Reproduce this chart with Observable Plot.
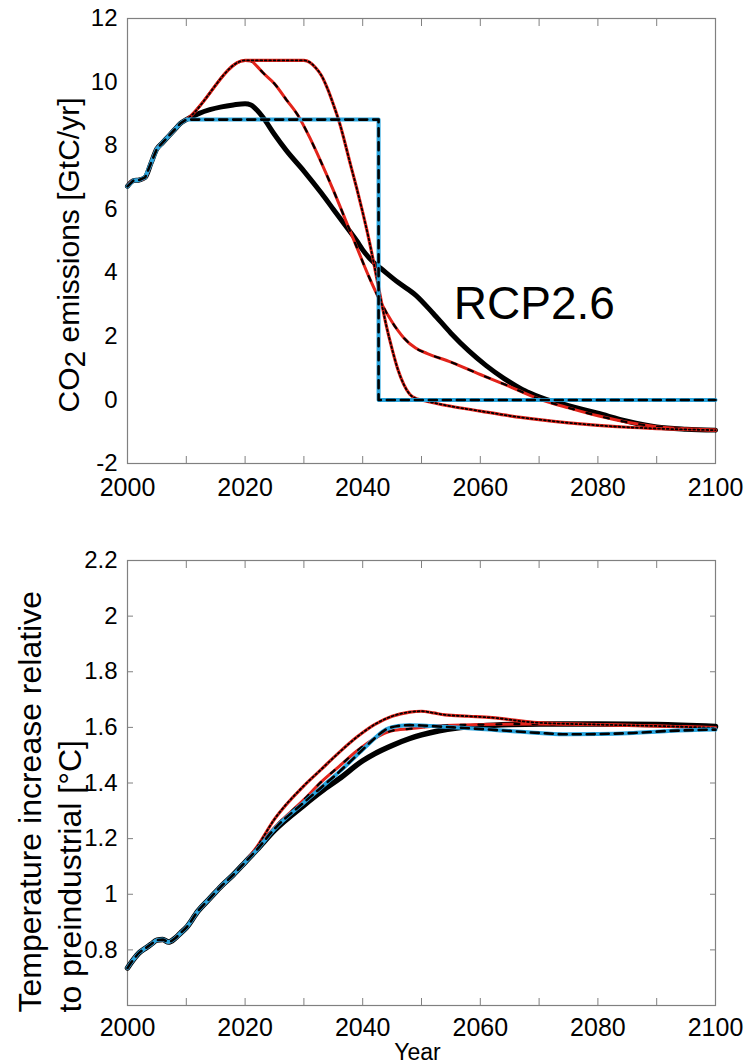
<!DOCTYPE html>
<html><head><meta charset="utf-8">
<script src="https://cdn.jsdelivr.net/npm/d3@7"></script>
<script src="https://cdn.jsdelivr.net/npm/@observablehq/plot@0.6"></script>
<style>
body{margin:0;background:#fff;font-family:"Liberation Sans",Arial,Helvetica,sans-serif}
#top,#bottom{display:block;line-height:0}
svg{overflow:visible}
</style>
</head><body><div id="top"></div><div id="bottom"></div>
<script>
// ---------- labels / ticks ----------
const xLabelTicks = [2000, 2020, 2040, 2060, 2080, 2100];
const xMinorTicks = [2010, 2020, 2030, 2040, 2050, 2060, 2070, 2080, 2090];
const emisTicks = [-2, 0, 2, 4, 6, 8, 10, 12];
const tempTicks = [0.8, 1.0, 1.2, 1.4, 1.6, 1.8, 2.0, 2.2];
const emisLabel = "CO2 emissions [GtC/yr]";
const tempLabel = "Temperature increase relative\nto preindustrial [°C]";
const xLabel = "Year";
const annotText = ["RCP2.6"];
const annotYear = [2055.5];
const annotValue = [2.55];

// ---------- emissions (GtC/yr) ----------
const histYears = [2000, 2001, 2002, 2003, 2004, 2005, 2006, 2007, 2008, 2009, 2010];
const histEmis  = [6.72, 6.9, 6.92, 7.0, 7.45, 7.9, 8.1, 8.3, 8.5, 8.7, 8.82];

const rcpYears = [2011, 2012, 2014, 2016, 2018, 2020, 2021, 2022, 2023, 2025, 2027, 2030, 2033, 2035, 2037, 2039, 2040, 2042, 2043, 2046, 2049, 2052, 2055, 2058, 2061, 2064, 2066, 2068, 2070, 2072, 2075, 2080, 2085, 2090, 2095, 2100];
const rcpEmis  = [8.92, 9.0, 9.13, 9.22, 9.28, 9.32, 9.28, 9.12, 8.9, 8.35, 7.85, 7.2, 6.5, 6.0, 5.5, 5.0, 4.72, 4.3, 4.15, 3.7, 3.3, 2.72, 2.1, 1.55, 1.08, 0.68, 0.45, 0.25, 0.1, -0.03, -0.18, -0.42, -0.67, -0.85, -0.92, -0.95];

const stepYears = [2010, 2042.7, 2042.7, 2100];
const stepEmis  = [8.82, 8.82, 0, 0];

const earlyYears = [2020, 2021, 2022, 2023, 2025, 2027, 2029, 2031, 2033, 2035, 2037, 2039, 2041, 2043, 2045, 2047, 2049, 2051, 2055, 2060, 2064, 2070, 2075, 2080, 2085, 2090, 2095, 2100];
const earlyEmis  = [10.68, 10.66, 10.5, 10.3, 9.95, 9.45, 8.95, 8.25, 7.45, 6.6, 5.7, 4.8, 3.9, 3.1, 2.45, 1.95, 1.63, 1.46, 1.19, 0.8, 0.5, 0.03, -0.25, -0.5, -0.7, -0.84, -0.91, -0.95];

const lateYears = [2020, 2030, 2031, 2032, 2033, 2034, 2035, 2036, 2038, 2039, 2040, 2041, 2042, 2043, 2044, 2045, 2046, 2047, 2048, 2049, 2050, 2055, 2060, 2065, 2070, 2075, 2080, 2085, 2090, 2095, 2100];
const lateEmis  = [10.68, 10.68, 10.62, 10.45, 10.2, 9.8, 9.3, 8.75, 7.35, 6.65, 5.9, 5.1, 4.2, 3.25, 2.35, 1.6, 0.95, 0.48, 0.18, 0.05, 0, -0.2, -0.35, -0.5, -0.62, -0.72, -0.8, -0.86, -0.9, -0.93, -0.95];

// ---------- temperature (°C) ----------
const histTYears = [2000, 2001, 2002, 2003, 2004, 2005, 2006, 2007, 2008, 2009, 2010, 2012, 2014, 2016, 2018, 2020];
const histTemp   = [0.735, 0.765, 0.79, 0.805, 0.82, 0.835, 0.837, 0.828, 0.84, 0.86, 0.88, 0.94, 0.985, 1.03, 1.07, 1.115];

const rcpTYears = [2022, 2025, 2030, 2033, 2036, 2040, 2042, 2045, 2048, 2050, 2053, 2056, 2060, 2065, 2070, 2080, 2090, 2100];
const rcpTemp   = [1.16, 1.23, 1.32, 1.37, 1.415, 1.48, 1.505, 1.535, 1.56, 1.573, 1.588, 1.598, 1.605, 1.61, 1.612, 1.612, 1.61, 1.603];

const stepTYears = [2022, 2025, 2030, 2033, 2036, 2040, 2042, 2044, 2046, 2048, 2050, 2053, 2058, 2063, 2070, 2075, 2080, 2086, 2092, 2100];
const stepTemp   = [1.16, 1.235, 1.33, 1.385, 1.44, 1.52, 1.56, 1.593, 1.605, 1.608, 1.607, 1.603, 1.597, 1.59, 1.58, 1.575, 1.576, 1.58, 1.587, 1.592];

const earlyTYears = [2022, 2025, 2030, 2033, 2036, 2039, 2042, 2045, 2048, 2053, 2060, 2070, 2080, 2090, 2100];
const earlyTemp   = [1.165, 1.24, 1.34, 1.405, 1.46, 1.515, 1.56, 1.588, 1.595, 1.606, 1.61, 1.612, 1.61, 1.605, 1.6];

const lateTYears = [2022, 2025, 2030, 2033, 2036, 2039, 2042, 2045, 2048, 2050, 2052, 2054, 2058, 2062, 2069, 2080, 2090, 2100];
const lateTemp   = [1.17, 1.27, 1.39, 1.45, 1.51, 1.565, 1.61, 1.64, 1.655, 1.658, 1.652, 1.645, 1.64, 1.635, 1.618, 1.61, 1.605, 1.598];

// ---------- styles ----------
const CYAN = "#29a5de", RED = "#e2231a", AXIS = "#808080";
const FONT = "'Liberation Sans', Arial, Helvetica, sans-serif";

const rows = (ys, vs) => ys.map((y, i) => ({year: y, value: vs[i]}));

function rcpMarks(data, w) {
  return [Plot.line(data, {x: "year", y: "value", stroke: "black", strokeWidth: w, curve: "monotone-x"})];
}
function blueMarks(data, curve) {
  return [
    Plot.line(data, {x: "year", y: "value", stroke: CYAN, strokeWidth: 4, curve}),
    Plot.line(data, {x: "year", y: "value", stroke: "black", strokeWidth: 2.6, strokeDasharray: "8,6", curve})
  ];
}
function redDashMarks(data) {
  return [
    Plot.line(data, {x: "year", y: "value", stroke: RED, strokeWidth: 3, curve: "monotone-x"}),
    Plot.line(data, {x: "year", y: "value", stroke: "black", strokeWidth: 2.2, strokeDasharray: "5,13", curve: "monotone-x"})
  ];
}
function redDotMarks(data) {
  return [
    Plot.line(data, {x: "year", y: "value", stroke: RED, strokeWidth: 3.2, curve: "monotone-x"}),
    Plot.line(data, {x: "year", y: "value", stroke: "black", strokeWidth: 1.8, strokeDasharray: "1.8,2.6", curve: "monotone-x"})
  ];
}

function frameAxes(yTicks, yFmt, yInnerTicks) {
  const m = [
    Plot.frame({stroke: AXIS, strokeWidth: 1.2}),
    Plot.axisX({anchor: "bottom", ticks: xMinorTicks, tickSize: -7, stroke: AXIS, tickFormat: () => "", label: null}),
    Plot.axisX({anchor: "top", ticks: xMinorTicks, tickSize: -7, stroke: AXIS, tickFormat: () => "", label: null}),
    Plot.axisY({anchor: "left", ticks: yTicks, tickSize: 0, tickPadding: 10, tickFormat: yFmt, fontSize: 24, label: null})
  ];
  if (yInnerTicks) {
    m.push(Plot.axisY({anchor: "left", ticks: yInnerTicks, tickSize: -6, stroke: AXIS, tickFormat: () => "", label: null}));
    m.push(Plot.axisY({anchor: "right", ticks: yInnerTicks, tickSize: -6, stroke: AXIS, tickFormat: () => "", label: null}));
  }
  return m;
}

// ---------- top panel ----------
const hist = rows(histYears, histEmis);
const emisRCP = hist.concat(rows(rcpYears, rcpEmis));
const emisStep = hist.concat(rows(stepYears, stepEmis).slice(1));
const emisEarly = hist.concat(rows(earlyYears, earlyEmis));
const emisLate = hist.concat(rows(lateYears, lateEmis));

const topPlot = Plot.plot({
  width: 752, height: 500,
  marginLeft: 127, marginRight: 37, marginTop: 18, marginBottom: 37,
  style: {fontFamily: FONT, background: "white", color: "black"},
  x: {domain: [2000, 2100]},
  y: {domain: [-2, 12]},
  marks: [
    ...frameAxes(emisTicks, d => String(d), null),
    Plot.axisX({anchor: "bottom", ticks: xLabelTicks, tickSize: 0, tickPadding: 15, tickFormat: d => String(d), fontSize: 25, label: null}),
    ...rcpMarks(emisRCP, 5),
    ...redDashMarks(emisEarly),
    ...redDotMarks(emisLate),
    ...blueMarks(emisStep, "linear"),
    Plot.text(annotText, {x: annotYear, y: annotValue, text: d => d, textAnchor: "start", lineAnchor: "bottom", fontSize: 46, fill: "black"}),
    Plot.text([emisLabel], {frameAnchor: "left", dx: -58, dy: 14, rotate: -90, textAnchor: "middle", lineAnchor: "middle", fontSize: 30, fill: "black"})
  ]
});
document.getElementById("top").appendChild(topPlot);

// subscript 2 in CO2
for (const t of topPlot.querySelectorAll("text")) {
  if (t.textContent === emisLabel) {
    t.textContent = "";
    const ns = "http://www.w3.org/2000/svg";
    const parts = [["CO", 0], ["2", 6], [" emissions [GtC/yr]", -6]];
    for (const [s, dy] of parts) {
      const sp = document.createElementNS(ns, "tspan");
      sp.textContent = s;
      if (dy) sp.setAttribute("dy", dy);
      t.appendChild(sp);
    }
  }
}

// ---------- bottom panel ----------
const histT = rows(histTYears, histTemp);
const tempRCP = histT.concat(rows(rcpTYears, rcpTemp));
const tempStep = histT.concat(rows(stepTYears, stepTemp));
const tempEarly = histT.concat(rows(earlyTYears, earlyTemp));
const tempLate = histT.concat(rows(lateTYears, lateTemp));

const bottomPlot = Plot.plot({
  width: 752, height: 564,
  marginLeft: 127, marginRight: 37, marginTop: 60, marginBottom: 59,
  style: {fontFamily: FONT, background: "white", color: "black"},
  x: {domain: [2000, 2100]},
  y: {domain: [0.6, 2.2]},
  marks: [
    ...frameAxes(tempTicks, d => String(+d.toFixed(1)), tempTicks),
    Plot.axisX({anchor: "bottom", ticks: xLabelTicks, tickSize: 0, tickPadding: 13, tickFormat: d => String(d), fontSize: 25, label: null}),
    ...rcpMarks(tempRCP, 5.5),
    ...redDashMarks(tempEarly),
    ...redDotMarks(tempLate),
    ...blueMarks(tempStep, "monotone-x"),
    Plot.text([tempLabel], {frameAnchor: "bottom-left", dx: -79, dy: 7, rotate: -90, textAnchor: "start", lineAnchor: "middle", lineHeight: 1.22, fontSize: 32, fill: "black"}),
    Plot.text([xLabel], {frameAnchor: "bottom", dx: -4, dy: 47, textAnchor: "middle", lineAnchor: "middle", fontSize: 23, fill: "black"})
  ]
});
document.getElementById("bottom").appendChild(bottomPlot);
</script>
</body></html>
